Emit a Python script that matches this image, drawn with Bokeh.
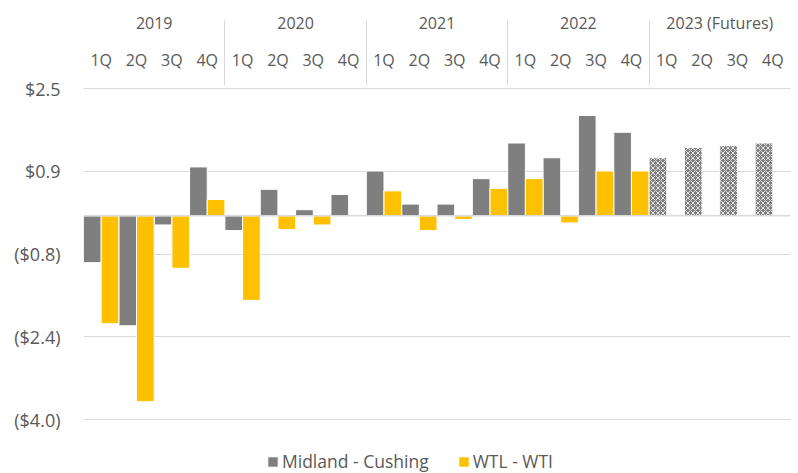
from bokeh.plotting import figure
from bokeh.models import (FactorRange, Range1d, ColumnDataSource, FixedTicker,
                          Span, Legend, LegendItem)
from bokeh.transform import dodge
from bokeh.embed import file_html
from bokeh.resources import INLINE

years = ["2019", "2020", "2021", "2022", "2023 (Futures)"]
quarters = ["1Q", "2Q", "3Q", "4Q"]

# Midland - Cushing, 2019 1Q .. 2022 4Q
midland = [-0.92, -2.16, -0.18, 0.96,
           -0.29, 0.52, 0.12, 0.42,
           0.88, 0.23, 0.23, 0.73,
           1.43, 1.14, 1.97, 1.64]
# Midland - Cushing futures, 2023 1Q .. 4Q
midland_futures = [1.14, 1.34, 1.38, 1.43]
# WTL - WTI, 2019 1Q .. 2022 4Q
wtl = [-2.12, -3.65, -1.03, 0.32,
       -1.66, -0.27, -0.18, 0.0,
       0.49, -0.29, -0.07, 0.54,
       0.73, -0.14, 0.88, 0.88]

y_ticks = [2.5, 0.875, -0.75, -2.375, -4.0]
y_tick_labels = ["$2.5", "$0.9", "($0.8)", "($2.4)", "($4.0)"]

FONT = "Open Sans"
TXT = "#595959"
GRID = "#d9d9d9"
GRAY = "#7f7f7f"
YELLOW = "#ffc000"

factors = [(y, q) for y in years for q in quarters]
hist_factors = factors[:16]
fut_factors = factors[16:]

src_hist = ColumnDataSource(dict(x=hist_factors, midland=midland, wtl=wtl))
src_fut = ColumnDataSource(dict(x=fut_factors, midland=midland_futures))

xr = FactorRange(*factors, range_padding=0, factor_padding=0,
                 subgroup_padding=0, group_padding=0)

# frame spans 88..473 px; values -4.0..2.5 occupy 88..419, space below holds the legend
p = figure(width=798, height=473, x_range=xr, y_range=Range1d(-5.06, 2.5),
           x_axis_location="above", output_backend="svg",
           toolbar_location=None, min_border_left=83, min_border_top=88,
           min_border_right=8, min_border_bottom=0)
p.outline_line_color = None
p.background_fill_color = "white"
p.border_fill_color = "white"

r_mid = p.vbar(x=dodge("x", -0.25, range=xr), top="midland", bottom=0, width=0.5,
               source=src_hist, fill_color=GRAY, line_color="white", line_width=1)
r_wtl = p.vbar(x=dodge("x", 0.25, range=xr), top="wtl", bottom=0, width=0.5,
               source=src_hist, fill_color=YELLOW, line_color="white", line_width=1)
p.vbar(x=dodge("x", -0.25, range=xr), top="midland", bottom=0, width=0.5,
       source=src_fut, fill_color=GRAY, line_color="white", line_width=1,
       hatch_pattern="diagonal_cross", hatch_color="white", hatch_scale=5,
       hatch_weight=1, hatch_alpha=0.8)

p.add_layout(Span(location=0, dimension="width", line_color=GRID, line_width=1.5))

# y axis
p.yaxis.ticker = FixedTicker(ticks=y_ticks)
p.yaxis.major_label_overrides = {t: l for t, l in zip(y_ticks, y_tick_labels)}
p.yaxis.axis_line_color = None
p.yaxis.major_tick_line_color = None
p.yaxis.minor_tick_line_color = None
p.yaxis.major_label_standoff = 17
p.yaxis.major_label_text_font = FONT
p.yaxis.major_label_text_font_size = "18px"
p.yaxis.major_label_text_color = TXT
p.ygrid.ticker = FixedTicker(ticks=y_ticks)
p.ygrid.grid_line_color = GRID
p.xgrid.grid_line_color = None

# x axis (top, nested)
xa = p.xaxis[0]
xa.axis_line_color = GRID
xa.major_tick_line_color = None
xa.major_label_standoff = 12
xa.major_label_text_font = FONT
xa.major_label_text_font_size = "16px"
xa.major_label_text_color = TXT
xa.group_text_font = FONT
xa.group_text_font_size = "16px"
xa.group_text_color = TXT
xa.group_text_font_style = "normal"
xa.separator_line_color = GRID
xa.separator_line_width = 1

legend = Legend(items=[LegendItem(label="Midland - Cushing", renderers=[r_mid]),
                       LegendItem(label="WTL - WTI", renderers=[r_wtl])],
                orientation="horizontal", location=(183, 0),
                label_text_font=FONT, label_text_font_size="17.5px",
                label_text_color=TXT, glyph_width=13, glyph_height=13,
                label_standoff=3, spacing=28, border_line_color=None,
                background_fill_alpha=0, padding=0, margin=0)
p.add_layout(legend)

open("out.html", "w").write(file_html(p, INLINE))
